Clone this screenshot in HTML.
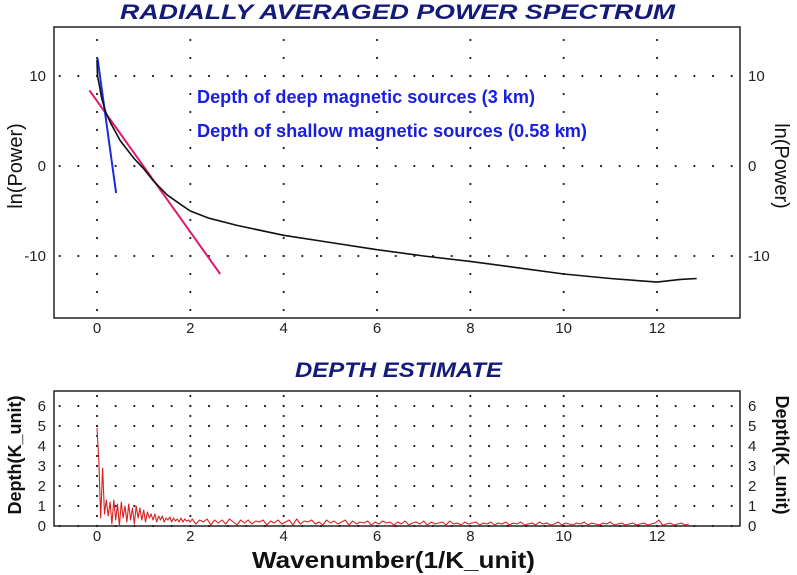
<!DOCTYPE html>
<html><head><meta charset="utf-8"><style>
html,body{margin:0;padding:0;background:#fff;}
svg{display:block;font-family:"Liberation Sans",Arial,sans-serif;}
</style></head><body>
<svg id="chart" width="797" height="575" viewBox="0 0 797 575">
<text x="120" y="19" textLength="555" lengthAdjust="spacingAndGlyphs" font-size="21" font-weight="bold" font-style="italic" fill="#141a78">RADIALLY AVERAGED POWER SPECTRUM</text>
<text x="295" y="377" textLength="207" lengthAdjust="spacingAndGlyphs" font-size="21" font-weight="bold" font-style="italic" fill="#141a78">DEPTH ESTIMATE</text>
<g id="gtop"></g>
<g id="gbot"></g>
<text x="22" y="166" transform="rotate(-90 22 166)" text-anchor="middle" font-size="20" fill="#111">ln(Power)</text>
<text x="775" y="166" transform="rotate(90 775 166)" text-anchor="middle" font-size="20" fill="#111">ln(Power)</text>
<text x="21" y="455" transform="rotate(-90 21 455)" text-anchor="middle" font-size="18" font-weight="bold" fill="#111">Depth(K_unit)</text>
<text x="776" y="455" transform="rotate(90 776 455)" text-anchor="middle" font-size="18" font-weight="bold" fill="#111">Depth(K_unit)</text>
<text x="252" y="568" textLength="283" lengthAdjust="spacingAndGlyphs" font-size="23" font-weight="bold" fill="#111">Wavenumber(1/K_unit)</text>
<text x="197" y="103" textLength="338" lengthAdjust="spacingAndGlyphs" font-size="18" font-weight="bold" fill="#1a1ee0">Depth of deep magnetic sources (3 km)</text>
<text x="197" y="137" textLength="390" lengthAdjust="spacingAndGlyphs" font-size="18" font-weight="bold" fill="#1a1ee0">Depth of shallow magnetic sources (0.58 km)</text>
</svg>
<script>
const xTicks=[0,2,4,6,8,10,12];
const topYTicks=[10,0,-10];
const botYTicks=[0,1,2,3,4,5,6];
const powerX=[0,0.01,0.05,0.1,0.2,0.3,0.5,0.8,1.0,1.2,1.5,1.8,2.0,2.4,3,4,5,6,7,8,9,10,11,12,12.5,12.85];
const powerY=[11.8,10,9,7.5,5.8,4.7,2.8,0.8,-0.3,-1.6,-3.2,-4.3,-5.0,-5.8,-6.6,-7.7,-8.5,-9.3,-10,-10.6,-11.3,-12.0,-12.5,-12.9,-12.6,-12.5];
const deepLineX=[0.01,0.41];
const deepLineY=[12,-3];
const shallowLineX=[-0.16,2.64];
const shallowLineY=[8.4,-12];
const depthA=[4.9,3.2,0.4,2.9,0.6,1.3,0.5,1.2,0.1,1.3,0.3,1.1,0.0,1.2,0.4,1.0,0.2,1.1,0.3,0.9,0.1,1.0,0.4,0.9,0.3,0.8,0.2,0.7,0.4,0.6,0.3,0.6,0.2,0.5,0.3,0.5,0.2,0.4,0.3,0.45,0.2,0.4,0.25,0.35,0.2,0.4,0.2,0.35,0.25,0.3,0.2];
const depthB=[0.35,0.1,0.3,0.2,0.35,0.05,0.3,0.15,0.3,0.1,0.35,0.2,0.05,0.3,0.15,0.3,0.1,0.25,0.2,0.3,0.05,0.25,0.15,0.3,0.1,0.2,0.3,0.05,0.35,0.1,0.25,0.2,0.3,0.1,0.2,0.05,0.3,0.15,0.25,0.1,0.2,0.3,0.05,0.25,0.1,0.2,0.15,0.25,0.05,0.2,0.1,0.25,0.15,0.2,0.05,0.2,0.1,0.25,0.05,0.15,0.2,0.1,0.25,0.05,0.2,0.1,0.15,0.2,0.05,0.25,0.1,0.15,0.05,0.2,0.1,0.15,0.2,0.05,0.15,0.1,0.2,0.05,0.15,0.1,0.2,0.05,0.15,0.1,0.2,0.05,0.1,0.15,0.05,0.2,0.1,0.15,0.05,0.1,0.2,0.05,0.15,0.1,0.05,0.15,0.1,0.2,0.05,0.15,0.1,0.05,0.15,0.1,0.2,0.05,0.1,0.15,0.05,0.1,0.15,0.05,0.1,0.15,0.05,0.1,0.15,0.3,0.05,0.1,0.15,0.05,0.1,0.15,0.05,0.1];

const NS='http://www.w3.org/2000/svg';
const L=54,R=740;
const xs=x=>97+x*46.67;
const ysT=y=>166-y*9;
const ysB=y=>526-y*20;
function mk(tag,attrs,parent){const e=document.createElementNS(NS,tag);for(const k in attrs)e.setAttribute(k,attrs[k]);parent.appendChild(e);return e;}
const gTop=document.getElementById('gtop'),gBot=document.getElementById('gbot');

function panel(g,T,B,ys,ymin,ymax,yTicks,vstep,prefix){
  for(const t of xTicks){
    for(let v=Math.ceil(ymin/vstep)*vstep;v<=ymax+1e-9;v+=vstep){
      const c=mk('circle',{cx:xs(t),cy:ys(v),r:1.1,fill:'#222'},g);
      
      
    }
  }
  for(const t of yTicks){
    for(let u=-0.8;u<=13.8;u+=0.4){
      const c=mk('circle',{cx:xs(u),cy:ys(t),r:1.1,fill:'#222'},g);
      
      
    }
    const a=mk('text',{x:L-8,y:ys(t)+5,'text-anchor':'end','font-size':15,fill:'#222'},g);a.textContent=t;
    
    
    const b=mk('text',{x:R+8,y:ys(t)+5,'font-size':15,fill:'#222'},g);b.textContent=t;
    
    
  }
  for(const t of xTicks){
    const a=mk('text',{x:xs(t),y:B+15,'text-anchor':'middle','font-size':15,fill:'#222'},g);a.textContent=t;
    
    
  }
  const f=mk('rect',{x:L,y:T,width:R-L,height:B-T,fill:'none',stroke:'#222','stroke-width':1.5},g);
  
  
}
panel(gTop,27,318,ysT,-16,15,topYTicks,2,'top');
panel(gBot,391,526,ysB,0,6.5,botYTicks,0.5,'bottom');

function line(g,X,Y,ys,col,w,name){
  const d=X.map((x,i)=>(i?'L':'M')+xs(x).toFixed(1)+' '+ys(Y[i]).toFixed(1)).join(' ');
  const p=mk('path',{d:d,fill:'none',stroke:col,'stroke-width':w,'stroke-linejoin':'round'},g);
  
  
}
line(gTop,shallowLineX,shallowLineY,ysT,'#e0186e',2,'shallow-source-fit-line');
line(gTop,deepLineX,deepLineY,ysT,'#1a2be0',2,'deep-source-fit-line');
line(gTop,powerX,powerY,ysT,'#111',1.6,'power-spectrum-curve');
const dX=[],dY=[];
depthA.forEach((v,i)=>{dX.push(i*0.04);dY.push(v);});
depthB.forEach((v,i)=>{dX.push(2.04+i*0.08);dY.push(v);});
line(gBot,dX,dY,ysB,'#d82020',1.1,'depth-estimate-curve');
</script>
</body></html>
